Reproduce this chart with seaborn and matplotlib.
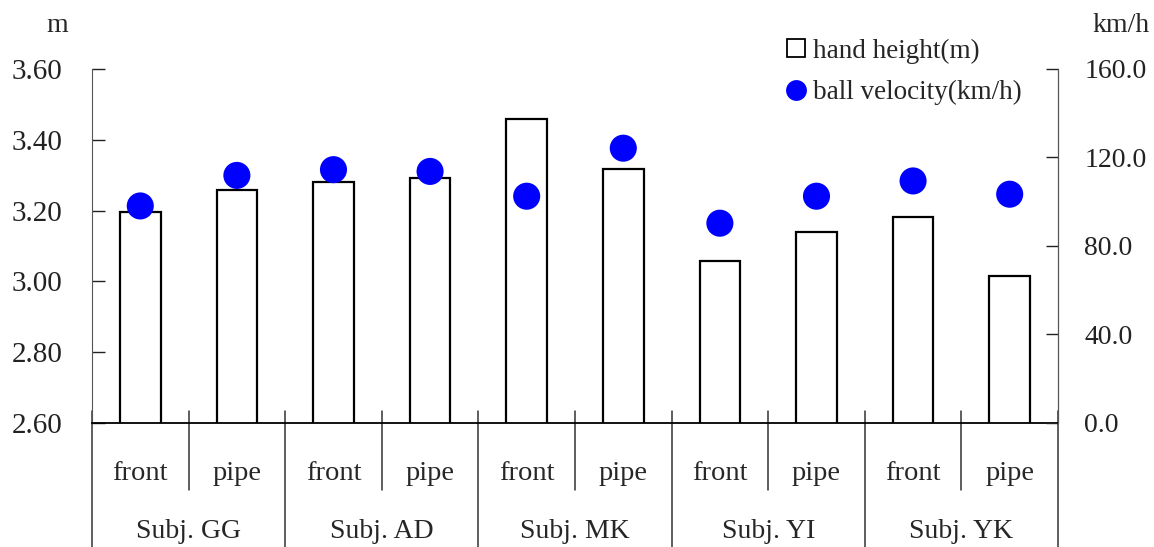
import matplotlib
matplotlib.use('Agg')
import matplotlib.pyplot as plt
import matplotlib.transforms as mtransforms
from matplotlib.lines import Line2D
import seaborn as sns
import pandas as pd
import numpy as np

# data
subjects = ['Subj. GG', 'Subj. AD', 'Subj. MK', 'Subj. YI', 'Subj. YK']
throws = ['front', 'pipe']
hand_height = [3.195, 3.259, 3.281, 3.291, 3.459, 3.318, 3.058, 3.140, 3.183, 3.015]
ball_velocity = [98.1, 111.9, 114.5, 113.7, 102.5, 124.2, 90.3, 102.5, 109.4, 103.4]

sns.set_style('white')
plt.rcParams['font.family'] = ['Liberation Serif', 'DejaVu Serif']

df = pd.DataFrame({
    'pos': np.arange(len(hand_height)),
    'throw': throws * len(subjects),
    'height': hand_height,
    'velocity': ball_velocity,
})

fig = plt.figure(figsize=(11.54, 5.47), dpi=100)
ax = fig.add_axes([0.0797, 0.2267, 0.9168 - 0.0797, 0.8739 - 0.2267])

sns.barplot(data=df, x='pos', y='height', ax=ax, color='white', edgecolor='black',
            linewidth=1.6, width=0.42, saturation=1)
ax.set_ylim(2.60, 3.60)
ax.set_xlim(-0.5, 9.5)
ax.set_yticks([2.60, 2.80, 3.00, 3.20, 3.40, 3.60])
ax.set_yticklabels(['%.2f' % v for v in [2.60, 2.80, 3.00, 3.20, 3.40, 3.60]])
ax.set_xlabel('')
ax.set_ylabel('')
ax.set_xticks([])
ax.tick_params(axis='y', direction='in', length=9, width=1, labelsize=21, pad=21, colors='#222222')
ax.spines['top'].set_visible(False)
ax.spines['left'].set_color('#555555')
ax.spines['bottom'].set_color('black')
ax.spines['bottom'].set_linewidth(1.3)

ax2 = ax.twinx()
sns.scatterplot(data=df, x='pos', y='velocity', ax=ax2, color='#0000ff', s=380,
                edgecolor='none', legend=False, zorder=3)
ax2.set_ylim(0, 160)
ax2.set_yticks([0, 40, 80, 120, 160])
ax2.set_yticklabels(['%.1f' % v for v in [0, 40, 80, 120, 160]])
ax2.set_ylabel('')
ax2.set_xlabel('')
ax2.tick_params(axis='y', direction='in', length=9, width=1, labelsize=20, pad=19, colors='#222222')
ax2.spines['top'].set_visible(False)
ax2.spines['right'].set_color('#555555')
ax2.spines['left'].set_visible(False)
ax2.spines['bottom'].set_visible(False)

# category table below the axis
trans = mtransforms.blended_transform_factory(ax.transData, ax.transAxes)
for i, t in enumerate(df['throw']):
    ax.text(i, -0.142, t, transform=trans, ha='center', va='center', fontsize=20.5)
for j, subj in enumerate(subjects):
    ax.text(2 * j + 0.5, -0.343, subj, transform=trans, ha='center', va='bottom', fontsize=20)
for k in range(11):
    x = k - 0.5
    y_bot = -0.40 if k % 2 == 0 else -0.19
    ax.add_line(Line2D([x, x], [0.034, y_bot], transform=trans, color='#333333',
                       linewidth=1.1, clip_on=False))

# axis units
fig.text(57 / 1154, 1 - 25 / 547, 'm', ha='center', va='center', fontsize=20)
fig.text(1150 / 1154, 1 - 25 / 547, 'km/h', ha='right', va='center', fontsize=20)

handles = [
    Line2D([], [], marker='s', linestyle='none', markersize=13, markerfacecolor='white',
           markeredgecolor='black', markeredgewidth=1.3),
    Line2D([], [], marker='o', linestyle='none', markersize=15, markerfacecolor='#0000ff',
           markeredgecolor='none'),
]
fig.legend(handles, ['hand height(m)', 'ball velocity(km/h)'], loc='upper left',
           bbox_to_anchor=(766 / 1154, 1 - 25 / 547), frameon=False, fontsize=19.5,
           handletextpad=0.05, labelspacing=0.6, handlelength=1.2, borderpad=0)

fig.savefig('out.png', dpi=100)
